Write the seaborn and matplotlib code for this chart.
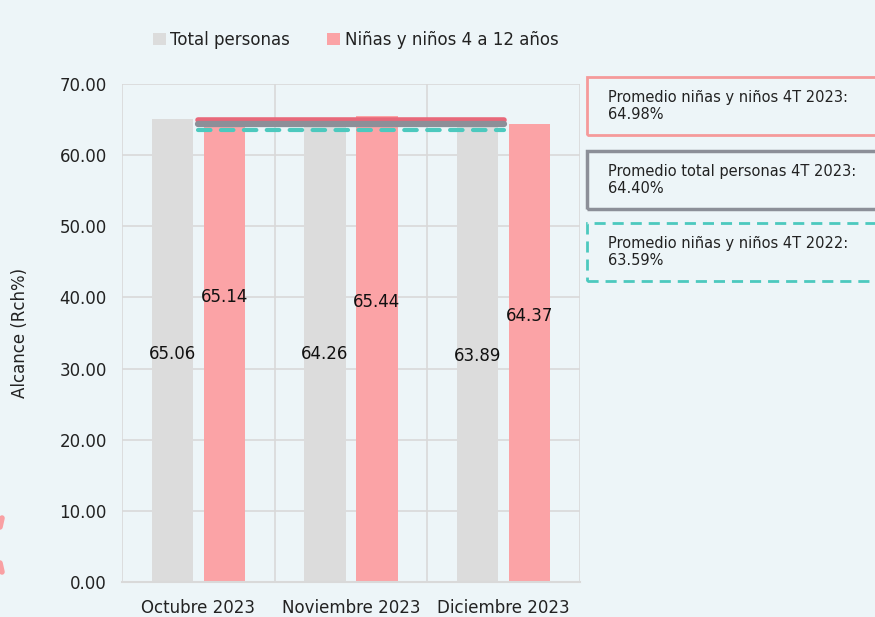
import numpy as np
import pandas as pd
import matplotlib
matplotlib.use("Agg")
import matplotlib.pyplot as plt
import seaborn as sns
from matplotlib.patches import Rectangle
from matplotlib.lines import Line2D

meses = ["Octubre 2023", "Noviembre 2023", "Diciembre 2023"]
series = ["Total personas", "Niñas y niños 4 a 12 años"]
total_personas = [65.06, 64.26, 63.89]
ninos = [65.14, 65.44, 64.37]
# alturas (en eje y) donde van las etiquetas
y_lab_total = [32.0, 32.0, 31.8]
y_lab_ninos = [40.0, 39.4, 37.4]

prom_ninos_2023 = 64.98
prom_total_2023 = 64.40
prom_ninos_2022 = 63.59
cajas = ["Promedio niñas y niños 4T 2023:\n64.98%",
         "Promedio total personas 4T 2023:\n64.40%",
         "Promedio niñas y niños 4T 2022:\n63.59%"]

bg = "#EDF5F8"
gris = "#DCDCDC"
rosa = "#FBA3A6"

df = pd.DataFrame({
    "mes": meses * 2,
    "serie": [series[0]] * 3 + [series[1]] * 3,
    "valor": total_personas + ninos,
})

sns.set_theme(style="white")
plt.rcParams["font.family"] = ["DejaVu Sans"]

fig = plt.figure(figsize=(8.75, 6.17), dpi=100, facecolor=bg)
ax = fig.add_axes([122/875, 1-582/617, 458/875, 498/617])
ax.set_facecolor(bg)

sns.barplot(data=df, x="mes", y="valor", hue="serie", palette=[gris, rosa],
            width=0.68, gap=0.206, saturation=1, linewidth=0, ax=ax,
            legend=True, zorder=2)

ax.set_ylim(0, 70)
ax.set_xlim(-0.5, 2.5)
ax.set_yticks(np.arange(0, 71, 10))
ax.set_yticklabels([f"{v:.2f}" for v in np.arange(0, 71, 10)], fontsize=12, color="#222222")
ax.set_xticks(range(3))
ax.set_xticklabels(meses, fontsize=12, color="#222222")
ax.set_xticks([-0.5, 0.5, 1.5, 2.5], minor=True)
ax.tick_params(axis="both", which="both", length=0)
ax.tick_params(axis="x", pad=12)
ax.tick_params(axis="y", pad=11)
ax.grid(axis="y", color="#D9D9D9", lw=1.2, zorder=0)
ax.grid(axis="x", which="minor", color="#D9D9D9", lw=1.2, zorder=0)
ax.grid(axis="x", which="major", visible=False)
ax.set_axisbelow(True)
for s in ["top", "right", "left"]:
    ax.spines[s].set_visible(False)
ax.spines["bottom"].set_color("#D9D9D9")
ax.spines["bottom"].set_linewidth(1.5)
ax.set_xlabel("")
ax.set_ylabel("Alcance (Rch%)", fontsize=12, color="#222222", labelpad=22)

# etiquetas de valores
for i in range(3):
    ax.text(i - 0.17, y_lab_total[i], f"{total_personas[i]:.2f}", ha="center",
            va="center", fontsize=12, color="#111111", zorder=5)
    ax.text(i + 0.17, y_lab_ninos[i], f"{ninos[i]:.2f}", ha="center",
            va="center", fontsize=12, color="#111111", zorder=5)

# lineas de promedio
ax.plot([0, 2], [prom_ninos_2023] * 2, color="#E8687A", lw=4, zorder=4,
        solid_capstyle="round")
ax.plot([0, 2], [prom_total_2023] * 2, color="#8C8F98", lw=4.5, zorder=4,
        solid_capstyle="round")
ax.plot([0, 2], [prom_ninos_2022] * 2, color="#4CC9BE", lw=3, zorder=4,
        ls=(0, (3, 2.5)), dash_capstyle="round")

# leyenda
h, l = ax.get_legend_handles_labels()
ax.legend(h, l, loc="lower left", bbox_to_anchor=(138/875, 1-64/617),
          bbox_transform=fig.transFigure, ncol=2, frameon=False, fontsize=12,
          handlelength=0.75, handleheight=0.75, handletextpad=0.3,
          columnspacing=2.2, labelcolor="#222222")

# cajas de anotacion
bordes = ["#F59A9A", "#8C8F98", "#4CC9BE"]
estilos = ["-", "-", (0, (4, 2.5))]
anchos = [2, 2.5, 2]
tops = [77, 151, 223]
for txt, c, ls, lw, t in zip(cajas, bordes, estilos, anchos, tops):
    r = Rectangle((587/875, 1-(t+58)/617), 300/875, 58/617, transform=fig.transFigure,
                  fill=False, ec=c, lw=lw, ls=ls, clip_on=False)
    fig.add_artist(r)
    fig.text(608/875, 1-(t+29)/617, txt, fontsize=10.5, color="#222222",
             va="center", ha="left", linespacing=1.2)

# adorno rosa a la izquierda
fig.add_artist(Line2D([2/875, 0], [1-518/617, 1-527/617], transform=fig.transFigure,
                      color="#F9A0A3", lw=4))
fig.add_artist(Line2D([0, 2/875], [1-563/617, 1-572/617], transform=fig.transFigure,
                      color="#F9A0A3", lw=4))

fig.savefig("out.png", dpi=100, facecolor=bg)
